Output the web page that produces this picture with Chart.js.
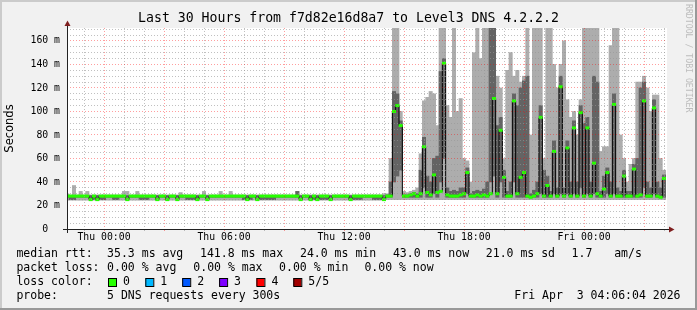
<!DOCTYPE html>
<html>
<head>
<meta charset="utf-8">
<script src="https://cdn.jsdelivr.net/npm/chart.js@4.4.1/dist/chart.umd.min.js"></script>
<style>
  html, body { margin: 0; padding: 0; background: #f1f1f1; }
  canvas { display: block; }
</style>
</head>
<body>
<canvas id="smokeChart" width="697" height="310"></canvas>
<script>
// samples every 10 minutes, hours relative to Thu 00:00
const FIRST_SAMPLE = -11 / 6;
const SAMPLE_STEP = 1 / 6;

// median rtt (ms)
const medianRtt = [
  28, 28, 28, 28, 28, 28, 28, 25, 28, 25,
  28, 28, 28, 28, 28, 28, 28, 28, 25, 28,
  28, 28, 28, 28, 28, 28, 28, 25, 28, 28,
  25, 28, 28, 25, 28, 28, 28, 28, 28, 25,
  28, 28, 25, 28, 28, 28, 28, 28, 28, 28,
  28, 28, 28, 28, 25, 28, 28, 25, 28, 28,
  28, 28, 28, 28, 28, 28, 28, 28, 28, 28,
  25, 28, 28, 25, 28, 25, 28, 28, 28, 25,
  28, 28, 28, 28, 28, 25, 28, 28, 28, 28,
  28, 28, 28, 28, 28, 25, 28, 28, 100, 105,
  88, 28, 28, 29, 30, 28, 30, 70, 31, 29,
  46, 31, 32, 141, 29, 28, 28, 28, 29, 30,
  48, 28, 28, 29, 28, 29, 28, 30, 111, 30,
  84, 44, 28, 28, 109, 30, 44, 48, 28, 27,
  28, 30, 95, 28, 37, 28, 66, 28, 121, 28,
  69, 28, 86, 28, 99, 28, 86, 28, 56, 30,
  28, 34, 48, 28, 106, 28, 28, 45, 28, 28,
  51, 28, 29, 109, 28, 28, 103, 28, 27, 43
];

// outer smoke band: fastest and slowest ping (ms)
const smokeMax = [
  30, 29, 37, 29, 32, 29, 32, 29, 29, 29,
  29, 29, 29, 29, 29, 29, 29, 32, 32, 29,
  29, 32, 29, 29, 29, 29, 29, 29, 29, 29,
  29, 29, 29, 29, 31, 29, 29, 29, 29, 29,
  29, 32, 29, 29, 29, 29, 32, 29, 29, 32,
  29, 29, 29, 29, 29, 29, 29, 29, 29, 29,
  29, 29, 29, 29, 29, 29, 29, 29, 29, 32,
  29, 29, 29, 29, 29, 29, 29, 29, 29, 29,
  29, 29, 29, 29, 29, 29, 29, 29, 29, 29,
  29, 29, 29, 29, 29, 30, 30, 60, 171, 171,
  100, 32, 31, 32, 33, 35, 64, 109, 112, 117,
  115, 88, 171, 171, 105, 95, 171, 100, 111, 60,
  58, 40, 150, 171, 145, 171, 171, 171, 171, 130,
  120, 60, 135, 150, 130, 135, 125, 130, 171, 80,
  171, 171, 171, 60, 171, 171, 140, 120, 140, 160,
  110, 95, 100, 80, 110, 171, 171, 171, 171, 171,
  66, 70, 70, 156, 171, 171, 80, 60, 40, 55,
  60, 125, 125, 130, 120, 100, 114, 114, 60, 50
];
const smokeMin = [
  24.5, 24.5, 24.5, 24.5, 24.5, 24.5, 24.5, 24.5, 24.5, 24.5,
  24.5, 24.5, 24.5, 24.5, 24.5, 24.5, 24.5, 24.5, 24.5, 24.5,
  24.5, 24.5, 24.5, 24.5, 24.5, 24.5, 24.5, 24.5, 24.5, 24.5,
  24.5, 24.5, 24.5, 24.5, 24.5, 24.5, 24.5, 24.5, 24.5, 24.5,
  24.5, 24.5, 24.5, 24.5, 24.5, 24.5, 24.5, 24.5, 24.5, 24.5,
  24.5, 24.5, 24.5, 24.5, 24.5, 24.5, 24.5, 24.5, 24.5, 24.5,
  24.5, 24.5, 24.5, 24.5, 24.5, 24.5, 24.5, 24.5, 24.5, 24.5,
  24.5, 24.5, 24.5, 24.5, 24.5, 24.5, 24.5, 24.5, 24.5, 24.5,
  24.5, 24.5, 24.5, 24.5, 24.5, 24.5, 24.5, 24.5, 24.5, 24.5,
  24.5, 24.5, 24.5, 24.5, 24.5, 24.5, 25, 25, 25, 25,
  25, 25, 25, 25, 25, 25, 25, 25, 25, 25,
  25, 25, 25, 25, 25, 25, 25, 25, 25, 25,
  25, 25, 25, 25, 25, 25, 25, 25, 25, 25,
  25, 25, 25, 25, 25, 25, 25, 25, 25, 25,
  25, 25, 25, 25, 25, 25, 25, 25, 25, 25,
  25, 25, 25, 25, 25, 25, 25, 25, 25, 25,
  25, 25, 25, 25, 25, 25, 25, 25, 25, 25,
  25, 25, 25, 25, 25, 25, 25, 25, 25, 25
];

// inner smoke band: 2nd and 4th ping (ms)
const smokeUpper = [
  28.5, 28.5, 28.5, 28.5, 28.5, 28.5, 28.5, 28.5, 28.5, 28.5,
  28.5, 28.5, 28.5, 28.5, 28.5, 28.5, 28.5, 28.5, 28.5, 28.5,
  28.5, 28.5, 28.5, 28.5, 28.5, 28.5, 28.5, 28.5, 28.5, 28.5,
  28.5, 28.5, 28.5, 28.5, 28.5, 28.5, 28.5, 28.5, 28.5, 28.5,
  28.5, 28.5, 28.5, 28.5, 28.5, 28.5, 28.5, 28.5, 28.5, 28.5,
  28.5, 28.5, 28.5, 28.5, 28.5, 28.5, 28.5, 28.5, 28.5, 28.5,
  28.5, 28.5, 28.5, 28.5, 28.5, 28.5, 28.5, 28.5, 28.5, 32,
  28.5, 28.5, 28.5, 28.5, 28.5, 28.5, 28.5, 28.5, 28.5, 28.5,
  28.5, 28.5, 28.5, 28.5, 28.5, 28.5, 28.5, 28.5, 28.5, 28.5,
  28.5, 28.5, 28.5, 28.5, 28.5, 28.5, 29, 40, 117, 115,
  92, 29, 29, 30, 31, 30, 50, 78, 45, 40,
  60, 62, 134, 145, 35, 32, 33, 32, 35, 35,
  52, 30, 32, 33, 32, 34, 40, 171, 171, 88,
  95, 50, 32, 40, 115, 105, 120, 126, 130, 30,
  33, 40, 105, 50, 45, 32, 75, 35, 130, 35,
  75, 40, 92, 40, 105, 90, 95, 40, 130, 125,
  32, 45, 52, 40, 115, 35, 32, 50, 32, 32,
  55, 60, 120, 125, 40, 35, 110, 40, 35, 46
];
const smokeLower = [
  27, 25, 25, 27, 27, 27, 27, 25, 25, 25,
  25, 25, 27, 27, 25, 25, 27, 27, 27, 27,
  27, 27, 25, 25, 25, 27, 27, 27, 27, 27,
  27, 27, 27, 27, 27, 27, 25, 25, 25, 25,
  27, 27, 27, 27, 27, 27, 27, 27, 27, 27,
  27, 27, 27, 25, 25, 25, 27, 27, 25, 25,
  25, 25, 25, 27, 27, 27, 27, 27, 27, 27,
  27, 27, 27, 25, 25, 25, 25, 25, 25, 27,
  27, 27, 27, 27, 27, 25, 25, 25, 25, 27,
  27, 27, 25, 25, 25, 25, 27, 27, 40, 45,
  50, 27, 27, 27, 27, 27, 27, 35, 27, 27,
  30, 27, 40, 60, 27, 27, 27, 27, 27, 27,
  30, 27, 27, 27, 27, 27, 27, 40, 45, 27,
  40, 27, 27, 27, 40, 27, 27, 27, 27, 27,
  27, 27, 30, 27, 27, 27, 30, 27, 30, 27,
  30, 27, 30, 27, 35, 27, 30, 27, 30, 27,
  27, 27, 30, 27, 30, 27, 27, 27, 27, 27,
  27, 27, 27, 35, 27, 27, 30, 27, 27, 27
];

const tickHours = [0, 6, 12, 18, 24];
const tickLabels = ['Thu 00:00', 'Thu 06:00', 'Thu 12:00', 'Thu 18:00', 'Fri 00:00'];

const lossLabels = ['0', '1', '2', '3', '4', '5/5'];
const lossColors = ['#26ff00', '#00b8ff', '#0059ff', '#7e00ff', '#ff0000', '#a10000'];

const MONO = '"DejaVu Sans Mono", monospace';
const MINOR = 'rgba(150,150,150,0.6)';
const MAJOR = 'rgba(255,0,0,0.38)';

const sampleHours = medianRtt.map((_, i) => FIRST_SAMPLE + i * SAMPLE_STEP);
const range = (lo, hi) => sampleHours.map((x, i) => ({ x, y: [lo[i], hi[i]] }));
const points = arr => sampleHours.map((x, i) => ({ x, y: arr[i] }));

// background, axes with arrows, title and the rrdtool style legend
const rrdFrame = {
  id: 'rrdFrame',
  beforeDraw(chart) {
    const { ctx, chartArea: a } = chart;
    ctx.save();
    ctx.fillStyle = '#f1f1f1';
    ctx.fillRect(0, 0, chart.width, chart.height);
    ctx.fillStyle = '#ffffff';
    ctx.fillRect(a.left, a.top, a.right - a.left, a.bottom - a.top);
    ctx.restore();
  },
  afterDraw(chart) {
    const { ctx, chartArea: a } = chart;
    const W = chart.width, H = chart.height;
    const x0 = Math.round(a.left) + 0.5, y0 = Math.round(a.bottom) + 0.5;
    ctx.save();

    // axes
    ctx.strokeStyle = '#222';
    ctx.lineWidth = 1;
    ctx.beginPath();
    ctx.moveTo(a.left - 4, y0); ctx.lineTo(a.right + 4, y0);
    ctx.moveTo(x0, a.bottom + 4); ctx.lineTo(x0, a.top - 4);
    ctx.stroke();
    ctx.fillStyle = '#7f1f1f';
    ctx.beginPath();
    ctx.moveTo(a.right + 2, y0 - 3); ctx.lineTo(a.right + 2, y0 + 3); ctx.lineTo(a.right + 7.5, y0);
    ctx.closePath(); ctx.fill();
    ctx.beginPath();
    ctx.moveTo(x0 - 3, a.top - 2); ctx.lineTo(x0 + 3, a.top - 2); ctx.lineTo(x0, a.top - 7.5);
    ctx.closePath(); ctx.fill();

    // title
    ctx.fillStyle = '#000';
    ctx.textBaseline = 'middle';
    ctx.textAlign = 'center';
    ctx.font = '13.2px ' + MONO;
    ctx.fillText('Last 30 Hours from f7d82e16d8a7 to Level3 DNS 4.2.2.2', W / 2, 19);

    // legend lines
    ctx.textAlign = 'left';
    ctx.font = '11.5px ' + MONO;
    const rows = [
      [254.3, [['median rtt:', 16.4], ['35.3 ms avg', 107.1], ['141.8 ms max', 200], ['24.0 ms min', 300],
               ['43.0 ms now', 392.9], ['21.0 ms sd', 485.8], ['1.7', 571.6], ['am/s', 614.2]]],
      [268.3, [['packet loss:', 16.4], ['0.00 % avg', 107.1], ['0.00 % max', 193.3],
               ['0.00 % min', 279.1], ['0.00 % now', 364.4]]],
      [282.3, [['loss color:', 16.4]]],
      [296.2, [['probe:', 16.4], ['5 DNS requests every 300s', 107.1]]]
    ];
    rows.forEach(([y, items]) => items.forEach(([t, x]) => ctx.fillText(t, x, y)));

    const boxX = [108, 145.3, 182.2, 219.1, 256.4, 293.3];
    lossLabels.forEach((lab, i) => {
      ctx.fillStyle = lossColors[i];
      ctx.fillRect(boxX[i], 278, 8, 8);
      ctx.strokeStyle = '#000';
      ctx.strokeRect(boxX[i] + 0.5, 278.5, 8, 8);
      ctx.fillStyle = '#000';
      ctx.fillText(lab, boxX[i] + 15, 282.3);
    });

    ctx.textAlign = 'right';
    ctx.fillText('Fri Apr  3 04:06:04 2026', 680.5, 296.2);

    // watermark
    ctx.save();
    ctx.translate(688.5, 4);
    ctx.rotate(Math.PI / 2);
    ctx.textAlign = 'left';
    ctx.fillStyle = '#bdbdbd';
    ctx.font = '8.2px ' + MONO;
    ctx.fillText('RRDTOOL / TOBI OETIKER', 0, 0);
    ctx.restore();

    // 3d border
    ctx.fillStyle = '#cbcbcb';
    ctx.fillRect(0, 0, W, 2);
    ctx.fillRect(0, 0, 2, H);
    ctx.fillStyle = '#999999';
    ctx.fillRect(0, H - 2, W, 2);
    ctx.fillRect(W - 2, 0, 2, H);
    ctx.restore();
  }
};

new Chart(document.getElementById('smokeChart'), {
  type: 'bar',
  data: {
    datasets: [
      { type: 'line', label: 'median', data: points(medianRtt), showLine: false,
        pointStyle: 'line', pointRadius: 2, pointBorderWidth: 3, pointBorderColor: '#26ff00',
        pointBackgroundColor: '#26ff00', order: 0 },
      { type: 'line', label: 'median line', data: points(medianRtt), stepped: 'middle',
        borderColor: '#000', borderWidth: 1, pointRadius: 0, order: 1 },
      { label: 'inner smoke', data: range(smokeLower, smokeUpper), backgroundColor: '#646464',
        grouped: false, barPercentage: 1, categoryPercentage: 1, order: 2 },
      { label: 'outer smoke', data: range(smokeMin, smokeMax), backgroundColor: '#adadad',
        grouped: false, barPercentage: 1, categoryPercentage: 1, order: 3 }
    ]
  },
  options: {
    responsive: false,
    animation: false,
    devicePixelRatio: 1,
    events: [],
    layout: { padding: { left: 0, right: 30, top: 28, bottom: 61 } },
    plugins: { legend: { display: false }, tooltip: { enabled: false } },
    scales: {
      x: {
        type: 'linear', min: -1.85, max: 28.15, offset: false,
        afterFit: s => { s.height = 20; },
        afterBuildTicks: s => {
          const t = [];
          for (let h = -1; h <= 28; h++) t.push({ value: h });
          s.ticks = t;
        },
        grid: { z: 1, offset: false, drawTicks: true, tickLength: 2,
                color: c => (c.tick && c.tick.value % 3 === 0) ? MAJOR : MINOR },
        border: { display: false, dash: [1, 2] },
        ticks: {
          autoSkip: false, maxRotation: 0, minRotation: 0, padding: 1, color: '#000',
          font: { family: MONO, size: 9.8 },
          callback: v => { const i = tickHours.indexOf(v); return i >= 0 ? tickLabels[i] : ''; }
        }
      },
      y: {
        min: 0, max: 171,
        afterFit: s => { s.width = 67; },
        afterBuildTicks: s => {
          const t = [];
          for (let v = 0; v <= 170; v += 5) t.push({ value: v });
          s.ticks = t;
        },
        grid: { z: 1, drawTicks: false,
                color: c => (c.tick && c.tick.value % 20 === 0) ? MAJOR : MINOR },
        border: { display: false, dash: [1, 2] },
        ticks: {
          autoSkip: false, padding: 7, color: '#000',
          font: { family: MONO, size: 9.8 },
          callback: v => v % 20 === 0 ? (v === 0 ? '0  ' : v + ' m') : ''
        },
        title: { display: true, text: 'Seconds', color: '#000',
                 font: { family: '"DejaVu Sans", sans-serif', size: 11.5 },
                 padding: { top: 3, bottom: 0 } }
      }
    }
  },
  plugins: [rrdFrame]
});
</script>
</body>
</html>
